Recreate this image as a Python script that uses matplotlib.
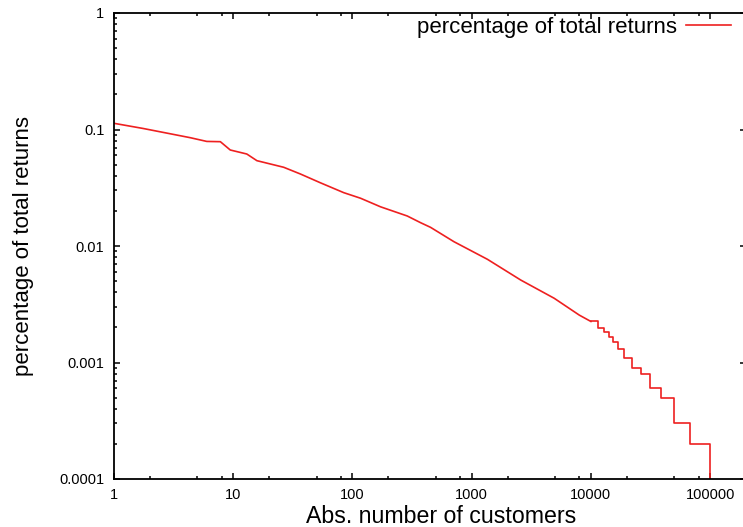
import matplotlib
matplotlib.use("Agg")
import matplotlib.pyplot as plt
from matplotlib.ticker import LogLocator, FixedLocator, NullFormatter

plt.rcParams["font.family"] = ["Liberation Sans", "DejaVu Sans"]

# smooth part of the curve
head_x = [1, 1.76, 4.35, 6.0, 7.8, 9.44, 13, 15.8, 26.5, 36.6, 53.8, 84.5, 117, 172,
          288, 373, 452, 710, 1355, 2582, 4920, 8000, 10000]
head_y = [0.113, 0.102, 0.0851, 0.079, 0.0786, 0.0667, 0.0616, 0.054, 0.0474, 0.0415,
          0.0349, 0.0287, 0.0257, 0.0217, 0.0181, 0.01585, 0.01446, 0.01089, 0.00769,
          0.0051, 0.00356, 0.00255, 0.00225]

# step-like tail
tail_x = [10000, 11380, 12940, 14260, 15210, 16760, 19050, 21980, 26300, 31500,
          38750, 49550, 68350, 99400]
tail_y = [0.00225, 0.00198, 0.00184, 0.00166, 0.0015, 0.0013, 0.0011, 0.0009, 0.0008,
          0.0006, 0.0005, 0.0003, 0.0002, 0.00005]

y_ticks = [0.0001, 0.001, 0.01, 0.1, 1]
y_labels = ["0.0001", "0.001", "0.01", "0.1", "1"]
x_ticks = [1, 10, 100, 1000, 10000, 100000]
x_labels = ["1", "10", "100", "1000", "10000", "100000"]

fig = plt.figure(figsize=(7.43, 5.27), dpi=100)
ax = fig.add_axes([114 / 743, 48 / 527, 632 / 743, 466 / 527])

red = "#ee2020"
ax.plot(head_x, head_y, color=red, lw=1.2, label="percentage of total returns")
ax.plot(tail_x, tail_y, color=red, lw=1.2, drawstyle="steps-post")

ax.set_xscale("log")
ax.set_yscale("log")
ax.set_xlim(1, 2e5)
ax.set_ylim(0.0001, 1)

ax.xaxis.set_major_locator(FixedLocator(x_ticks))
ax.set_xticklabels(x_labels)
ax.xaxis.set_minor_locator(LogLocator(base=10, subs=(2, 5, 8), numticks=20))
ax.xaxis.set_minor_formatter(NullFormatter())
ax.yaxis.set_major_locator(FixedLocator(y_ticks))
ax.set_yticklabels(y_labels)
ax.yaxis.set_minor_locator(LogLocator(base=10, subs=range(2, 10), numticks=20))
ax.yaxis.set_minor_formatter(NullFormatter())

ax.tick_params(which="both", direction="in", top=True, right=True, width=1.1)
ax.tick_params(which="major", length=4, labelsize=10.5)
ax.tick_params(axis="x", which="major", pad=6.5)
ax.tick_params(axis="y", which="major", pad=7)
ax.tick_params(which="minor", length=2.3)
for s in ax.spines.values():
    s.set_linewidth(1.3)

ax.set_xlabel("Abs. number of customers", fontsize=16.7, labelpad=2, x=0.517)
ax.set_ylabel("percentage of total returns", fontsize=16, labelpad=18)

ax.legend(loc="upper right", bbox_to_anchor=(0.976, 0.991), frameon=False,
          markerfirst=False, fontsize=16, borderpad=0, borderaxespad=0,
          handlelength=2.0, handletextpad=0.4)

fig.savefig("out.png", dpi=100)
